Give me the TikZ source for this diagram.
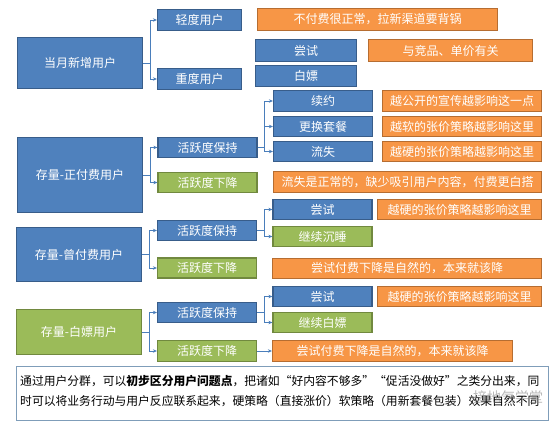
\documentclass[tikz,border=0pt]{standalone}
\usepackage{fontspec}
\setmainfont{Noto Sans CJK SC}
\usetikzlibrary{arrows.meta}
\definecolor{bfill}{HTML}{4F81BD}
\definecolor{bdraw}{HTML}{385D8A}
\definecolor{gfill}{HTML}{9BBB59}
\definecolor{gdraw}{HTML}{71893F}
\definecolor{ofill}{HTML}{F79646}
\definecolor{odraw}{HTML}{B66D31}
\definecolor{lnk}{HTML}{4A7EBB}
\definecolor{frm}{HTML}{7F9DB9}
\begin{document}
\begin{tikzpicture}[x=1pt,y=-1pt,
 box/.style={draw, line width=1.2pt, text=white, inner sep=0pt, font=\fontsize{12}{12}\selectfont},
 bl/.style={box, fill=bfill, draw=bdraw},
 gr/.style={box, fill=gfill, draw=gdraw},
 og/.style={box, fill=ofill, draw=odraw},
 sm/.style={minimum width=99pt, minimum height=20pt},
 link/.style={draw=lnk, line width=0.8pt, -{Stealth[length=4pt,width=3.5pt]}},
 note/.style={anchor=west, inner sep=0pt, text=black, font=\fontsize{11.8}{11.8}\selectfont},
]
\useasboundingbox (0,0) rectangle (560,435);

% group 1: new users
\node[bl, minimum width=125pt, minimum height=51pt] (newu) at (80,63) {当月新增用户};
\node[bl, minimum width=84pt, minimum height=21pt] (light) at (199.5,20) {轻度用户};
\node[bl, minimum width=84pt, minimum height=21pt] (heavy) at (199.5,79) {重度用户};
\node[og, minimum width=240pt, minimum height=22pt] (o1) at (377.5,19.5) {不付费很正常，拉新渠道要背锅};
\node[bl, minimum width=101pt, minimum height=22pt] (try1) at (306,50.5) {尝试};
\node[og, minimum width=164pt, minimum height=22pt] (o2) at (450.5,50.5) {与竞品、单价有关};
\node[bl, minimum width=101pt, minimum height=21pt] (free1) at (306,76) {白嫖};

% group 2: paying users
\node[bl, minimum width=125pt, minimum height=75pt] (paid) at (80,175) {存量-正付费用户};
\node[bl, sm] (pkeep) at (207.5,147.5) {活跃度保持};
\node[gr, sm] (pdown) at (207.5,182.5) {活跃度下降};
\node[bl, sm, minimum height=21pt] (renew) at (323,101) {续约};
\node[bl, sm] (change) at (323,126.5) {更换套餐};
\node[bl, sm] (churn) at (323,151.5) {流失};
\node[og, minimum width=159pt, minimum height=21pt] (o3) at (462,101) {越公开的宣传越影响这一点};
\node[og, minimum width=159pt, minimum height=20pt] (o4) at (462,126.5) {越软的张价策略越影响这里};
\node[og, minimum width=159pt, minimum height=20pt] (o5) at (462,151.5) {越硬的张价策略越影响这里};
\node[og, minimum width=268pt, minimum height=21pt] (o6) at (407.5,182) {流失是正常的，缺少吸引用户内容，付费更白搭};

% group 3: former paying users
\node[bl, minimum width=125pt, minimum height=54pt] (ex) at (79,254.5) {存量-曾付费用户};
\node[bl, sm] (ekeep) at (207,230.5) {活跃度保持};
\node[gr, sm] (edown) at (207,268) {活跃度下降};
\node[bl, sm] (try2) at (322.5,209.5) {尝试};
\node[og, minimum width=164pt, minimum height=20pt] (o7) at (459.5,209.5) {越硬的张价策略越影响这里};
\node[gr, sm] (sleep) at (322.5,236.5) {继续沉睡};
\node[og, minimum width=269pt, minimum height=20pt] (o8) at (407,268.5) {尝试付费下降是自然的，本来就该降};

% group 4: free users
\node[gr, minimum width=125pt, minimum height=45pt] (fr) at (79,332) {存量-白嫖用户};
\node[bl, sm] (fkeep) at (207,312.5) {活跃度保持};
\node[gr, sm, minimum height=21pt] (fdown) at (207,351) {活跃度下降};
\node[bl, sm] (try3) at (322.5,296.5) {尝试};
\node[og, minimum width=164pt, minimum height=20pt] (o9) at (459.5,296.5) {越硬的张价策略越影响这里};
\node[gr, sm] (cont) at (322.5,322.5) {继续白嫖};
\node[og, minimum width=240pt, minimum height=21pt] (o10) at (392.5,351) {尝试付费下降是自然的，本来就该降};

% connectors
\draw[link] (newu.east) -- ++(7,0) |- (light.west);
\draw[link] (newu.east) -- ++(7,0) |- (heavy.west);
\draw[link] (paid.east) -- ++(7,0) |- (pkeep.west);
\draw[link] (paid.east) -- ++(7,0) |- (pdown.west);
\draw[link] (pkeep.east) -- ++(7,0) |- (renew.west);
\draw[link] (pkeep.east) -- ++(7,0) |- (change.west);
\draw[link] (pkeep.east) -- ++(7,0) |- (churn.west);
\draw[link] (ex.east) -- ++(7,0) |- (ekeep.west);
\draw[link] (ex.east) -- ++(7,0) |- (edown.west);
\draw[link] (ekeep.east) -- ++(7,0) |- (try2.west);
\draw[link] (ekeep.east) -- ++(7,0) |- (sleep.west);
\draw[link] (fr.east) -- ++(7,0) |- (fkeep.west);
\draw[link] (fr.east) -- ++(7,0) |- (fdown.west);
\draw[link] (fkeep.east) -- ++(7,0) |- (try3.west);
\draw[link] (fkeep.east) -- ++(7,0) |- (cont.west);
\draw[link] (fdown.east) -- (o10.west);

% bottom note
\node[draw=frm, line width=0.8pt, fill=white, minimum width=532pt, minimum height=54pt, inner sep=0pt] (notebox) at (282,393) {};
\node[note] (l1) at (20,381) {通过用户分群，可以\textbf{初步区分用户问题点}，把诸如“好内容不够多”“促活没做好”之类分出来，同};
\node[note] (l2) at (20,401) {时可以将业务行动与用户反应联系起来，硬策略（直接涨价）软策略（用新套餐包装）效果自然不同};
\node[text=gray, opacity=0.55, inner sep=0pt, font=\fontsize{14}{14}\selectfont] (wm) at (508,397) {接地气学堂};
\end{tikzpicture}
\end{document}
